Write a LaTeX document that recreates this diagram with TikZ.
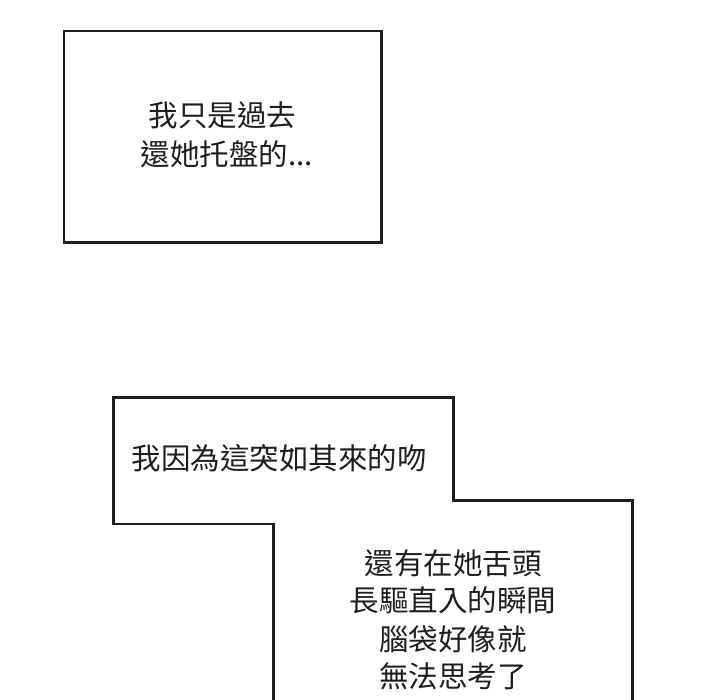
\documentclass[tikz,border=0pt]{standalone}
\usepackage{fontspec}
\newfontfamily\cjk{Noto Sans CJK TC}
\definecolor{ink}{HTML}{1E1E1E}
\tikzset{
  frame/.style={draw=ink, line width=2.6pt, line join=miter},
  txt/.style={inner sep=0pt, anchor=base, text=ink, font=\cjk\fontsize{29.5}{38.5}\selectfont}
}
\begin{document}
\begin{tikzpicture}[x=1pt,y=-1pt]
\useasboundingbox (0,0) rectangle (720,700);
\fill[white] (0,0) rectangle (720,700);
% top box
\node[frame, minimum width=317.5pt, minimum height=211.5pt, inner sep=0pt] (box1) at (222.7,136.8) {};
\node[txt] (t1a) at (222.5,126.2) {我只是過去};
\node[txt] (t1b) at (227,165.2) {還她托盤的...};
% stepped box
\begin{scope}
\clip (0,0) rectangle (720,700);
\coordinate (pA) at (273.3,710);
\coordinate (pB) at (273.3,524);
\coordinate (pC) at (113.3,524);
\coordinate (pD) at (113.3,397.3);
\coordinate (pE) at (453.3,397.3);
\coordinate (pF) at (453.3,500.7);
\coordinate (pG) at (632.3,500.7);
\coordinate (pH) at (632.3,710);
\draw[frame] (pA) -- (pB) -- (pC) -- (pD) -- (pE) -- (pF) -- (pG) -- (pH);
\end{scope}
\node[txt] (t2) at (279,469.7) {我因為這突如其來的吻};
\node[txt] (t3a) at (453,574.2) {還有在她舌頭};
\node[txt] (t3b) at (453,611.2) {長驅直入的瞬間};
\node[txt] (t3c) at (453,650.2) {腦袋好像就};
\node[txt] (t3d) at (453,687.2) {無法思考了};
\end{tikzpicture}
\end{document}
